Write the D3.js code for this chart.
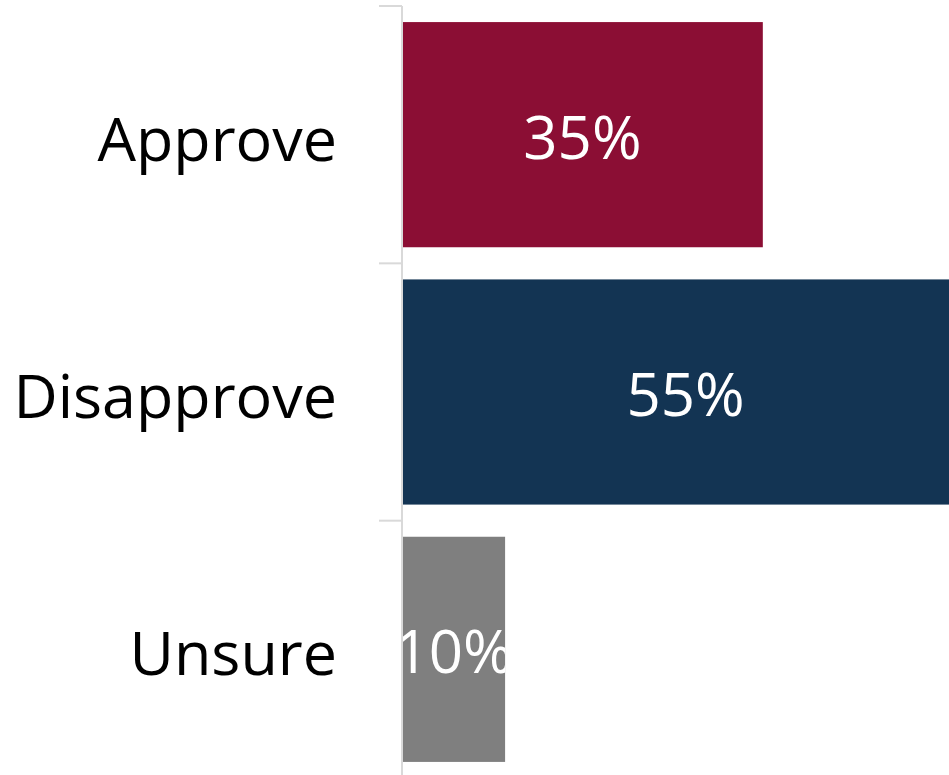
<!DOCTYPE html>
<html><head><meta charset="utf-8">
<script src="https://cdn.jsdelivr.net/npm/d3@7"></script>
<style>html,body{margin:0;padding:0;background:#fff;overflow:hidden}</style>
</head><body>
<svg id="c" width="949" height="775"></svg>
<script>
const categories = ["Approve", "Disapprove", "Unsure"];
const values = [35, 55, 10];
const colors = ["#8B0E34", "#133453", "#7F7F7F"];

const svg = d3.select("#c");
const x0 = 402;
const x = d3.scaleLinear().domain([0, 55]).range([x0, x0 + 567]);
const yB = d3.scaleBand().domain(categories).range([6, 778]).paddingInner(0.125).paddingOuter(0.0625);
const yEdge = d3.scaleBand().domain(categories).range([6, 778]).padding(0);

const defs = svg.append("defs");
categories.forEach((c, i) => {
  defs.append("clipPath").attr("id", "clip" + i).append("rect")
    .attr("x", x(0)).attr("y", yB(c)).attr("width", x(values[i]) - x(0)).attr("height", yB.bandwidth());
});

svg.selectAll("rect.bar").data(categories).join("rect").attr("class", "bar")
  .attr("x", x(0) + 1).attr("y", d => yB(d))
  .attr("width", (d, i) => x(values[i]) - x(0) - 1)
  .attr("height", yB.bandwidth())
  .attr("fill", (d, i) => colors[i]);

svg.selectAll("text.val").data(categories).join("text").attr("class", "val")
  .attr("clip-path", (d, i) => `url(#clip${i})`)
  .attr("x", (d, i) => (x(0) + x(values[i])) / 2)
  .attr("y", d => yB(d) + yB.bandwidth() / 2)
  .attr("dy", "0.4em")
  .attr("text-anchor", "middle")
  .attr("fill", "#fff")
  .style("font-family", "'Open Sans', 'Noto Sans', sans-serif")
  .style("font-size", "60px")
  .text((d, i) => values[i] + "%");

// axis
const g = svg.append("g");
g.append("line").attr("x1", x0).attr("x2", x0).attr("y1", 6).attr("y2", 775)
  .attr("stroke", "#d9d9d9").attr("stroke-width", 2);
categories.forEach(c => {
  g.append("line").attr("x1", 379).attr("x2", x0).attr("y1", yEdge(c)).attr("y2", yEdge(c))
    .attr("stroke", "#d9d9d9").attr("stroke-width", 2);
});

svg.selectAll("text.cat").data(categories).join("text").attr("class", "cat")
  .attr("x", 337)
  .attr("y", d => yEdge(d) + yEdge.bandwidth() / 2 + 4)
  .attr("dy", "0.36em")
  .attr("text-anchor", "end")
  .attr("fill", "#000")
  .style("font-family", "'Open Sans', 'Noto Sans', sans-serif")
  .style("font-size", "61px")
  .text(d => d);
</script>
</body></html>
